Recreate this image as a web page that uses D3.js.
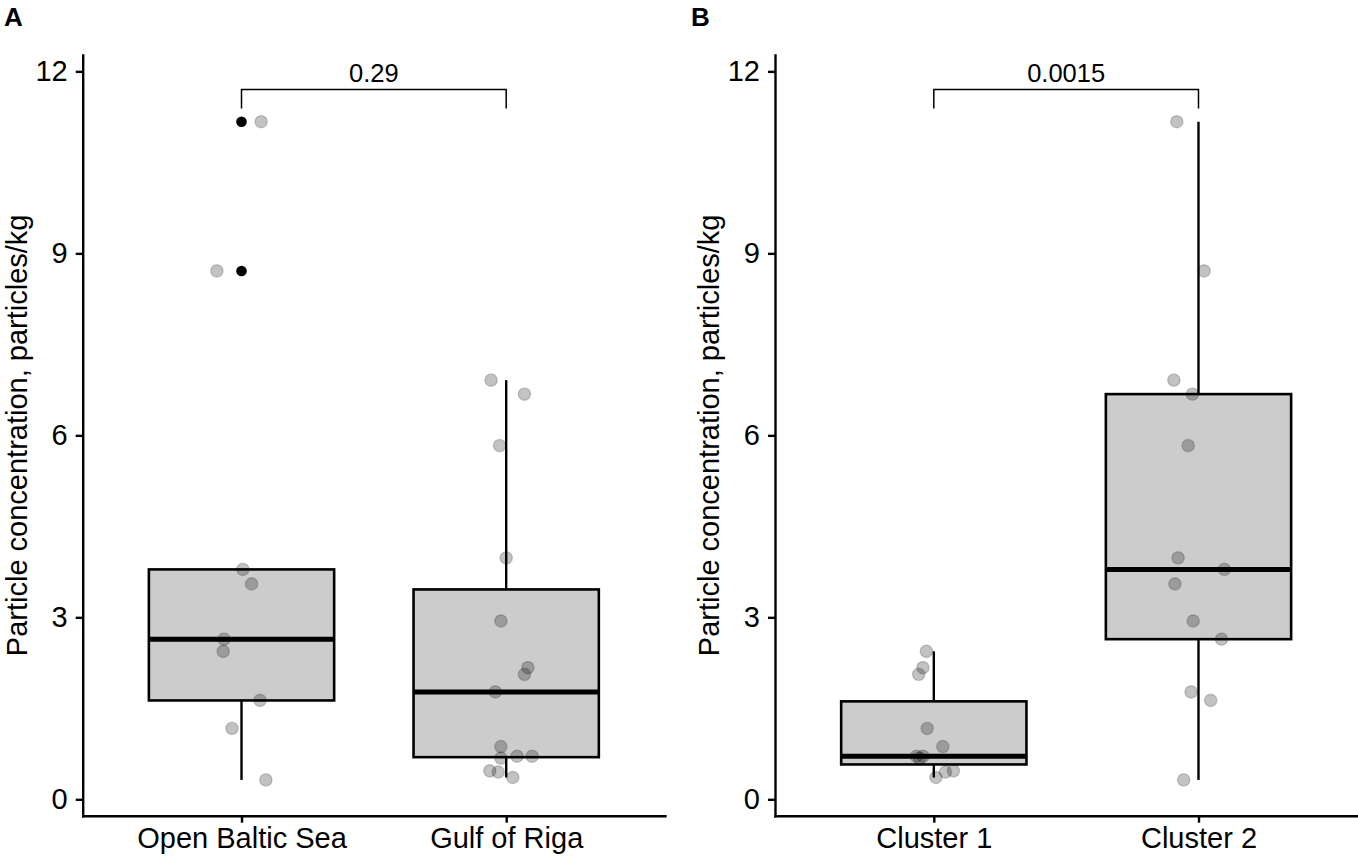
<!DOCTYPE html>
<html>
<head>
<meta charset="utf-8">
<script src="https://cdn.jsdelivr.net/npm/d3@7"></script>
<style>
  body { margin: 0; background: #fff; }
  text { font-family: "Liberation Sans", Arial, sans-serif; }
</style>
</head>
<body>
<div id="chart"></div>
<script>
// panel A : sampling area
const groupsA = ["Open Baltic Sea", "Gulf of Riga"];
const openBaltic = [11.17, 8.71, 3.79, 3.55, 2.64, 2.44, 1.63, 1.17, 0.32];
const openBalticJitter = [0.074, -0.093, 0.005, 0.038, -0.066, -0.069, 0.070, -0.036, 0.092];
const gulfRiga = [6.91, 6.68, 5.83, 3.98, 2.94, 2.17, 2.06, 1.77, 0.87, 0.68, 0.71, 0.71, 0.47, 0.45, 0.36];
const gulfRigaJitter = [-0.057, 0.069, -0.025, 0, -0.020, 0.082, 0.069, -0.041, -0.020, -0.020, 0.041, 0.098, -0.062, -0.030, 0.025];

// panel B : clusters
const groupsB = ["Cluster 1", "Cluster 2"];
const cluster1 = [2.44, 2.17, 2.06, 1.17, 0.87, 0.71, 0.71, 0.68, 0.47, 0.45, 0.36];
const cluster1Jitter = [-0.028, -0.041, -0.057, -0.025, 0.034, -0.066, -0.041, -0.054, 0.074, 0.044, 0.008];
const cluster2 = [11.17, 8.71, 6.91, 6.68, 5.83, 3.98, 3.79, 3.55, 2.94, 2.64, 1.77, 1.63, 0.32];
const cluster2Jitter = [-0.082, 0.021, -0.093, -0.023, -0.039, -0.077, 0.098, -0.089, -0.020, 0.087, -0.028, 0.046, -0.056];

const yTicks = [0, 3, 6, 9, 12];
const pValues = ["0.29", "0.0015"];
const panelLetters = ["A", "B"];
const yTitle = "Particle concentration, particles/kg";

const width = 1358, height = 857;

const svg = d3.select("#chart")
  .append("svg")
  .attr("width", width)
  .attr("height", height);

// boxplot stats, same as ggplot (quantile type 7, 1.5 IQR)
function boxStats(values) {
  let s = values.slice().sort(d3.ascending);
  let q1 = d3.quantile(s, 0.25), med = d3.quantile(s, 0.5), q3 = d3.quantile(s, 0.75);
  let iqr = q3 - q1;
  let inside = s.filter(v => v >= q1 - 1.5 * iqr && v <= q3 + 1.5 * iqr);
  return {
    q1, med, q3,
    lo: d3.min(inside),
    hi: d3.max(inside),
    outliers: s.filter(v => v < q1 - 1.5 * iqr || v > q3 + 1.5 * iqr)
  };
}

function drawPanel(left, groups, series, jitters, pLabel, letter, letterX) {
  let top = 55, bottom = 815.7, right = left + 582.3;
  let g = svg.append("g");

  let x = d3.scalePoint().domain(groups).range([left, right]).padding(0.6);
  let step = x.step();
  let y = d3.scaleLinear().domain([-0.27, 12.27]).range([bottom, top]);

  // boxes
  series.forEach((vals, i) => {
    let cx = x(groups[i]);
    let st = boxStats(vals);
    let bw = step * 0.7;

    g.append("line")
      .attr("x1", cx).attr("x2", cx)
      .attr("y1", y(st.q3)).attr("y2", y(st.hi))
      .attr("stroke", "#000").attr("stroke-width", 2.4);
    g.append("line")
      .attr("x1", cx).attr("x2", cx)
      .attr("y1", y(st.q1)).attr("y2", y(st.lo))
      .attr("stroke", "#000").attr("stroke-width", 2.4);

    g.append("rect")
      .attr("x", cx - bw / 2)
      .attr("y", y(st.q3))
      .attr("width", bw)
      .attr("height", y(st.q1) - y(st.q3))
      .attr("fill", "#cccccc")
      .attr("stroke", "#000")
      .attr("stroke-width", 2.6);

    g.append("line")
      .attr("x1", cx - bw / 2).attr("x2", cx + bw / 2)
      .attr("y1", y(st.med)).attr("y2", y(st.med))
      .attr("stroke", "#000").attr("stroke-width", 5);

    g.selectAll(null)
      .data(st.outliers)
      .enter().append("circle")
      .attr("cx", cx)
      .attr("cy", d => y(d))
      .attr("r", 5.3)
      .attr("fill", "#000");
  });

  // jittered points
  series.forEach((vals, i) => {
    let cx = x(groups[i]);
    g.selectAll(null)
      .data(vals)
      .enter().append("circle")
      .attr("cx", (d, j) => cx + jitters[i][j] * step)
      .attr("cy", d => y(d))
      .attr("r", 6.2)
      .attr("fill", "#000")
      .attr("fill-opacity", 0.24)
      .attr("stroke", "#000")
      .attr("stroke-opacity", 0.18)
      .attr("stroke-width", 1.3);
  });

  // axes
  let yAxis = g.append("g")
    .attr("transform", `translate(${left},0)`)
    .call(d3.axisLeft(y).tickValues(yTicks).tickSize(7).tickSizeOuter(0).tickPadding(8));
  let xAxis = g.append("g")
    .attr("transform", `translate(0,${bottom})`)
    .call(d3.axisBottom(x).tickSize(7).tickSizeOuter(0).tickPadding(5));

  [yAxis, xAxis].forEach(a => {
    a.select(".domain").attr("stroke-width", 2.4).attr("stroke-linecap", "square");
    a.selectAll(".tick line").attr("stroke-width", 2.4);
    a.selectAll(".tick text")
      .attr("fill", "#000")
      .style("font-family", "Liberation Sans, Arial, sans-serif")
      .style("font-size", "29px");
  });

  // y title
  g.append("text")
    .attr("transform", `translate(${left - 56},${(top + bottom) / 2}) rotate(-90)`)
    .attr("text-anchor", "middle")
    .style("font-size", "29px")
    .attr("fill", "#000")
    .text(yTitle);

  // comparison bracket
  let x1 = x(groups[0]), x2 = x(groups[1]);
  let yb = y(11.70), yt = y(11.39);
  g.append("path")
    .attr("d", `M${x1},${yt} V${yb} H${x2} V${yt}`)
    .attr("fill", "none")
    .attr("stroke", "#000")
    .attr("stroke-width", 1.5);
  g.append("text")
    .attr("x", (x1 + x2) / 2)
    .attr("y", yb - 7.6)
    .attr("text-anchor", "middle")
    .style("font-size", "25.5px")
    .attr("fill", "#000")
    .text(pLabel);

  // panel letter
  svg.append("text")
    .attr("x", letterX)
    .attr("y", 26)
    .style("font-size", "26px")
    .style("font-weight", "bold")
    .attr("fill", "#000")
    .text(letter);
}

drawPanel(82.7, groupsA, [openBaltic, gulfRiga], [openBalticJitter, gulfRigaJitter], pValues[0], panelLetters[0], 4);
drawPanel(775, groupsB, [cluster1, cluster2], [cluster1Jitter, cluster2Jitter], pValues[1], panelLetters[1], 691);
</script>
</body>
</html>
